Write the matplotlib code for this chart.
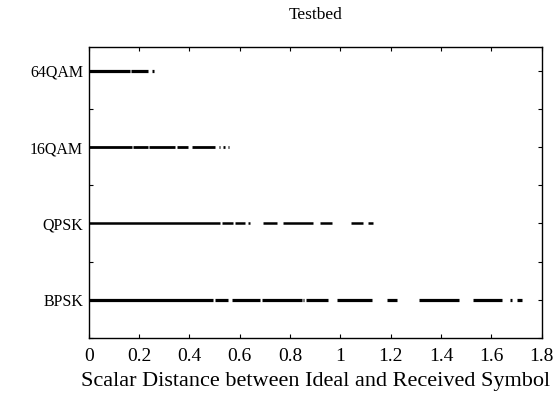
import matplotlib
matplotlib.use("Agg")
import matplotlib.pyplot as plt

plt.rcParams['font.family'] = ['Liberation Serif', 'DejaVu Serif']

# modulation levels, bottom to top
mods = ['BPSK', 'QPSK', '16QAM', '64QAM']
levels = [1, 2, 3, 4]

bpsk_segs = [(0.0, 0.495), (0.502, 0.555), (0.568, 0.681), (0.687, 0.846),
             (0.850, 0.856), (0.863, 0.952), (0.985, 1.124), (1.184, 1.224),
             (1.313, 1.471), (1.528, 1.641), (1.673, 1.681), (1.700, 1.720)]
qpsk_segs = [(0.0, 0.522), (0.528, 0.574), (0.581, 0.621), (0.634, 0.641),
             (0.691, 0.747), (0.771, 0.890), (0.919, 0.965), (1.041, 1.091),
             (1.111, 1.131)]
qam16_segs = [(0.0, 0.171), (0.177, 0.237), (0.241, 0.343), (0.350, 0.396),
              (0.409, 0.502), (0.516, 0.522), (0.535, 0.541), (0.552, 0.558)]
qam64_segs = [(0.0, 0.165), (0.168, 0.236), (0.252, 0.258)]

all_segs = [bpsk_segs, qpsk_segs, qam16_segs, qam64_segs]
widths = [2.3, 1.8, 2.0, 2.3]

fig = plt.figure(figsize=(5.6, 4.03), dpi=100)
ax = fig.add_axes([0.1584, 0.1613, 0.8089, 0.7221])

for lev, segs, lw in zip(levels, all_segs, widths):
    xs = [s[0] for s in segs]
    xe = [s[1] for s in segs]
    ax.hlines([lev] * len(segs), xs, xe, colors='black', linewidth=lw,
              capstyle='butt')

ax.set_xlim(0, 1.8)
ax.set_ylim(0.5, 4.31)
ax.set_xticks([0, 0.2, 0.4, 0.6, 0.8, 1.0, 1.2, 1.4, 1.6, 1.8])
ax.set_xticklabels(['0', '0.2', '0.4', '0.6', '0.8', '1', '1.2', '1.4', '1.6', '1.8'])
ax.set_yticks(levels)
ax.set_yticklabels(mods)
ax.set_yticks([0.5, 1.5, 2.5, 3.5], minor=True)

ax.tick_params(which='both', direction='in', top=True, right=True,
               length=3, width=0.8)
ax.tick_params(axis='x', labelsize=14, pad=7)
ax.tick_params(axis='y', labelsize=11.5, pad=4)
for sp in ax.spines.values():
    sp.set_linewidth(1.0)

ax.set_xlabel('Scalar Distance between Ideal and Received Symbol', fontsize=16,
              labelpad=5)
ax.set_title('Testbed', fontsize=12.5, pad=20)

fig.savefig('out.png', dpi=100)
